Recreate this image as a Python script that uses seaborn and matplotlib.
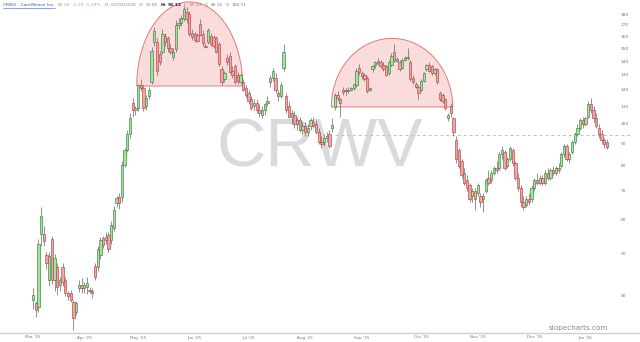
import numpy as np
import pandas as pd
import matplotlib
matplotlib.use("Agg")
import matplotlib.pyplot as plt
import seaborn as sns

# ---------------- data ----------------
opens = [39.0, 38.3, 37.5, 55.5, 55.5, 49.5, 43.5, 54.0, 43.5, 46.6,
         42.3, 46.6, 43.4, 40.6, 40.6, 38.5, 36.6, 41.6, 42.3, 41.6,
         41.9, 41.2, 41.0, 46.8, 46.6, 49.5, 54.2, 53.8, 55.2, 53.8,
         57.3, 65.5, 67.6, 67.6, 80.5, 87, 95, 112, 108, 109,
         123, 121, 110, 116, 125, 155, 155, 145, 147, 160,
         158, 150, 143, 149, 170, 172, 175, 182, 180, 163,
         162, 161, 171, 162, 152, 155, 160, 159, 158, 153,
         134, 127, 142, 144, 133, 136, 130, 125, 125, 121,
         118, 114, 110, 112, 108, 105, 108, 112, 125, 128,
         128, 118, 116, 135, 116, 110, 104, 105, 100, 102,
         97, 99, 96, 99, 101, 100, 96, 91, 91, 93,
         95, 98, 109.5, 117, 114, 120, 119, 120, 120, 121,
         123, 135, 131, 130, 128, 120, 134, 137, 140, 139,
         137, 136, 131, 137, 147, 140, 139, 135, 141, 142,
         139, 128, 124, 122, 120, 126, 134, 137, 136, 131,
         134, 118, 117, 114, 103, 110, 103, 92, 87, 82,
         77, 74, 72, 68, 70, 69, 68, 67, 70, 75,
         74, 77, 79, 79, 85, 86, 80, 83, 87, 81,
         75, 71, 66, 65, 67, 67, 71, 74, 73, 75,
         73, 77, 75, 78, 77, 79, 80, 85, 89, 83,
         86, 91, 95, 98, 102, 100, 104, 111, 108, 103,
         98, 95, 92, 90.86]
highs = [41.6, 38.9, 54.0, 64.3, 58.0, 50.5, 50.5, 55.0, 50.0, 47.5,
         44.0, 47.5, 44.0, 41.0, 41.2, 39.0, 38.8, 43.5, 43.8, 43.0,
         44.0, 41.8, 41.5, 47.5, 52.0, 54.5, 55.0, 56.0, 56.0, 59.5,
         64.5, 68.0, 69.0, 82.0, 88.0, 97, 106, 115, 110, 124,
         127, 123, 117, 122, 151, 168, 158, 148, 166, 163,
         160, 153, 150, 174, 176, 179, 188, 187, 183, 166,
         164, 163, 175, 165, 154, 167, 163, 161, 160, 155,
         136, 133, 145, 147, 136, 138, 132, 131, 127, 123,
         120, 116, 114, 114, 111, 110, 112, 116, 130, 135,
         131, 120, 125, 153, 118, 113, 108, 107, 104, 104,
         101, 101, 100, 103, 104, 102, 98, 94, 95, 96,
         97, 103, 118, 119, 115, 122, 121, 122, 122, 124,
         135, 138, 133, 131, 129, 122, 137, 140, 142, 141,
         139, 137, 141, 146, 153, 143, 141, 142, 144, 150,
         141, 130, 125, 123, 127, 132, 138, 139, 137, 135,
         135, 119, 118, 115, 106, 112, 104, 94, 88, 83,
         79, 76, 73, 71, 71, 73, 69, 69, 75, 78,
         78, 80, 82, 86, 89, 87, 84, 89, 88, 82,
         77, 72, 68, 68, 69, 72, 75, 77, 76, 76,
         78, 79, 79, 80, 80, 81, 86, 90, 90, 86,
         92, 96, 100, 103, 104, 104, 113, 115, 110, 106,
         100, 97, 93, 92.12]
lows = [37.2, 35.6, 36.5, 52.0, 52.0, 46.0, 42.0, 42.5, 41.0, 40.0,
        41.0, 42.0, 39.8, 39.0, 38.5, 33.3, 36.0, 40.8, 40.5, 40.5,
        40.3, 40.5, 39.5, 43.5, 45.5, 48.5, 51.5, 52.5, 50.5, 52.5,
        56.5, 64.0, 63.5, 66.0, 79.5, 86, 93, 104, 105, 107,
        119, 107, 108, 114, 124, 152, 130, 137, 145, 152,
        147, 145, 141, 147, 166, 169, 173, 172, 160, 157,
        155, 155, 160, 152, 150, 153, 152, 150, 146, 136,
        123, 125, 137, 131, 128, 124, 124, 124, 119, 115,
        111, 108, 108, 106, 104, 103, 105, 110, 122, 126,
        118, 113, 115, 133, 106, 103, 100, 98, 97, 96,
        95, 94, 94, 97, 98, 95, 90, 88, 89, 91,
        88, 96, 108, 113, 104, 117, 117, 118, 119, 120,
        122, 130, 127, 126, 118, 119, 132, 135, 137, 135,
        133, 129, 130, 136, 139, 139, 133, 134, 140, 141,
        126, 124, 121, 114.5, 119, 125, 133, 132, 130, 130,
        124, 113, 112, 108, 101.5, 104, 94, 81, 79, 75,
        72, 70, 66, 66, 63, 68, 64, 62.5, 69, 72,
        73, 76, 77, 78, 83, 78, 79, 82, 80, 74,
        70, 64, 63, 64, 65, 66, 70, 72, 72, 72,
        72, 74, 74, 76, 76, 77, 79, 84, 82, 81,
        85, 90, 94, 97, 98, 99, 103, 106, 101, 98,
        93, 90, 88, 87.33]
closes = [40.0, 37.0, 52.5, 61.0, 53.5, 47.6, 49.4, 43.5, 48.8, 41.9,
          43.4, 43.0, 40.4, 39.8, 39.0, 35.5, 38.4, 42.2, 41.7, 42.2,
          42.7, 40.9, 40.5, 44.2, 51.3, 53.8, 52.4, 54.6, 51.3, 58.2,
          63.1, 67.3, 65.5, 80.3, 87.0, 95, 103, 108, 109, 123,
          121, 109, 115, 120, 148, 164, 133, 139, 162, 155,
          150, 147, 147, 170, 172, 176, 185, 175, 162, 159,
          157, 156, 161, 154, 151, 165, 153, 152, 147, 138,
          125, 131, 139, 132, 130, 125, 126, 130, 120, 117,
          113, 109, 112, 108, 106, 108, 111, 113, 128, 133,
          120, 116, 123, 147, 108, 104, 106, 100, 102, 97,
          99, 96, 98, 102, 99, 96, 91, 90, 93, 94,
          89, 99.5, 117, 115, 112, 118.5, 120, 119, 121.5, 123.5,
          133, 132, 129, 127, 119.5, 121, 136, 139, 138.5, 136,
          134, 130, 139.5, 144, 140, 141.5, 134, 141, 142, 143,
          127, 125, 122, 118, 126, 131, 137, 133, 131, 134,
          125, 114.5, 113, 109, 105, 106, 96, 83, 80, 76,
          73, 71, 67, 70, 67, 72, 66, 68, 74, 73,
          77, 79, 78, 85, 87, 79, 83, 88, 81, 75,
          71, 66, 64, 67, 66, 71, 74, 73, 75, 73,
          77, 75, 78, 77, 79, 78, 85, 89, 83, 85,
          91, 95, 98, 102, 100, 103, 111, 108, 103, 99,
          95, 92, 90, 88.36]

month_labels = ["Mar '25", "Apr '25", "May '25", "Jun '25", "Jul '25", "Aug '25",
                "Sep '25", "Oct '25", "Nov '25", "Dec '25", "Jan '26"]
month_pos = [0, 19, 39, 60, 80, 101, 122, 144, 165, 186, 205]
price_ticks = [40, 50, 60, 70, 80, 90, 100, 110, 120, 130, 140, 150, 160, 170, 180]

header_parts = ["CRWV - CoreWeave Inc.", "88.36", "-1.29", "-1.59%", "D: 02/03/2026",
                "O:", "90.86", "H:", "92.12", "L:", "87.33", "C:", "88.36", "V:", "188.31"]

# domes: (start bar, end bar, base price, top price)
dome_start = [38.5, 110.7]
dome_end = [77.8, 155.7]
dome_base = [122.5, 109.5]
dome_top = [192.0, 158.0]
ref_level = 94.5
ref_start = 112

df = pd.DataFrame({"open": opens, "high": highs, "low": lows, "close": closes})
df["i"] = np.arange(len(df))
df["up"] = df["close"] >= df["open"]
df["body_lo"] = df[["open", "close"]].min(axis=1)
df["body_hi"] = df[["open", "close"]].max(axis=1)

sns.set_theme(style="white")
plt.rcParams["font.family"] = ["DejaVu Sans"]

fig = plt.figure(figsize=(6.4, 3.42), dpi=100)
ax = fig.add_axes([0, 9 / 342, 1, 333 / 342])

# domes
for s, e, b, t in zip(dome_start, dome_end, dome_base, dome_top):
    th = np.linspace(0, np.pi, 200)
    cx, a = (s + e) / 2, (e - s) / 2
    xs = cx + a * np.cos(th)
    ys = np.exp(np.log(b) + (np.log(t) - np.log(b)) * np.sin(th))
    ax.fill(xs, ys, facecolor="#fbdcdc", edgecolor="#e07a7a", lw=0.7, zorder=1)

# watermark
ax.text(0.5, 0.555, "CRWV", transform=ax.transAxes, ha="center", va="center",
        fontsize=49, color="#dadada", family="Liberation Sans", zorder=0)

# reference dashed line
ax.plot([ref_start, 222], [ref_level, ref_level], ls=(0, (3, 3)), color="#e8b49a",
        lw=0.7, zorder=2)

# candles
green_fill, green_edge = "#a0e59c", "#3d7a3d"
red_fill, red_edge = "#f2a3a3", "#a84848"
ax.vlines(df["i"], df["low"], df["high"], color="#666666", lw=0.5, zorder=3)
for up, fc, ec in [(True, green_fill, green_edge), (False, red_fill, red_edge)]:
    sub = df[df["up"] == up]
    h = np.maximum(sub["body_hi"] - sub["body_lo"], sub["body_lo"] * 0.006)
    ax.bar(sub["i"], h, bottom=sub["body_lo"], width=0.86, color=fc,
           edgecolor=ec, linewidth=0.45, zorder=4)

ax.set_yscale("log")
ax.set_ylim(32.7, 194)
ax.set_xlim(-33 / 2.695, (640 - 33) / 2.695)
ax.yaxis.set_major_locator(matplotlib.ticker.FixedLocator(price_ticks))
ax.yaxis.set_minor_locator(matplotlib.ticker.NullLocator())
ax.set_yticklabels([str(p) for p in price_ticks])
ax.yaxis.tick_right()
ax.tick_params(axis="y", direction="in", length=0, pad=-14, labelsize=3.2,
               labelcolor="#777777")
ax.set_xticks(month_pos)
ax.set_xticklabels(month_labels)
ax.tick_params(axis="x", length=0, pad=1.8, labelsize=3.0, labelcolor="#777777")
for sp in ["top", "left", "right"]:
    ax.spines[sp].set_visible(False)
ax.spines["bottom"].set_color("#cfcfcf")
ax.spines["bottom"].set_linewidth(1.0)
ax.set_xlabel("")
ax.set_ylabel("")

# header, laid out chunk by chunk
colors = ["#3a55c8", "#e08c8c", "#e08c8c", "#e08c8c", "#888888", "#888888", "#888888",
          "#222222", "#222222", "#888888", "#888888", "#888888", "#888888", "#888888",
          "#888888"]
weights = ["normal"] * 7 + ["bold", "bold"] + ["normal"] * 6
gaps = [3.5, 2.2, 2.2, 3.5, 2.5, 1.8, 2.5, 1.8, 2.5, 1.8, 2.5, 1.8, 2.5, 1.8, 0]
fig.canvas.draw()
renderer = fig.canvas.get_renderer()
xpx = 3.0
hy = 1 - 5.5 / 342
for txt, col, wt, gp in zip(header_parts, colors, weights, gaps):
    t = fig.text(xpx / 640, hy, txt, fontsize=3.2, color=col, weight=wt,
                 va="center", ha="left")
    bb = t.get_window_extent(renderer)
    if txt.startswith("CRWV"):
        fig.add_artist(matplotlib.lines.Line2D([xpx / 640, (xpx + bb.width) / 640],
                                               [hy - 2.6 / 342] * 2,
                                               color="#3a55c8", lw=0.4))
    xpx += bb.width + gp

# site watermark
fig.text(608 / 640, 1 - 328 / 342, "slopecharts.com", fontsize=5.2, color="#8a8a8a",
         ha="right", va="center")

fig.savefig("out.png", dpi=100, facecolor="white")
